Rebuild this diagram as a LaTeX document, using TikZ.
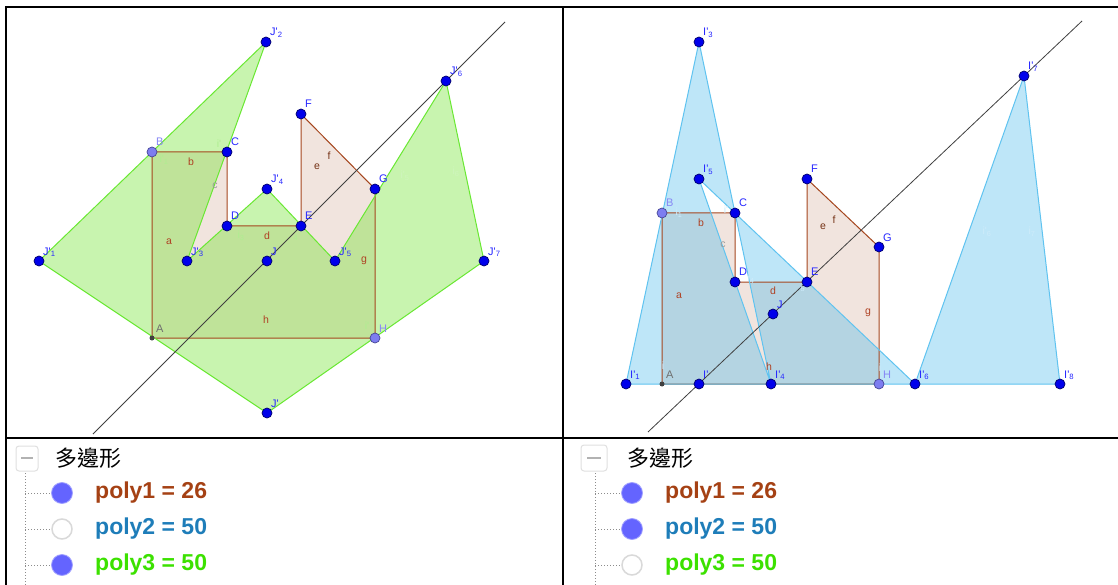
\documentclass[tikz,border=0pt]{standalone}
\usepackage{fontspec}
\setmainfont{Liberation Sans}
\newfontfamily\cjkfont{Noto Sans CJK TC}
\definecolor{brn}{RGB}{165,70,30}
\definecolor{pinkc}{RGB}{153,51,0}
\definecolor{grnc}{RGB}{98,226,26}
\definecolor{grnedge}{RGB}{105,232,50}
\definecolor{bluc}{RGB}{69,184,235}
\definecolor{bluedge}{RGB}{95,195,240}
\definecolor{ptblue}{RGB}{0,0,235}
\definecolor{ptdark}{RGB}{0,0,110}
\definecolor{ptlight}{RGB}{125,125,240}
\definecolor{ptlightd}{RGB}{70,70,150}
\definecolor{labblue}{RGB}{40,40,255}
\definecolor{lablight}{RGB}{135,135,245}
\definecolor{labgray}{RGB}{110,110,110}
\definecolor{seglab}{RGB}{175,65,35}
\definecolor{faintg}{RGB}{175,238,145}
\definecolor{faintb}{RGB}{205,235,250}
\definecolor{legdot}{RGB}{100,100,255}
\definecolor{txtp1}{RGB}{165,65,20}
\definecolor{txtp2}{RGB}{30,125,185}
\definecolor{txtp3}{RGB}{60,225,0}
\newcommand{\pq}{\textquotesingle}
\begin{document}
\begin{tikzpicture}[x=1pt,y=-1pt,
  pt/.style={circle,fill=ptblue,draw=ptdark,line width=0.7pt,inner sep=0pt,minimum size=10pt},
  ptl/.style={pt,fill=ptlight,draw=ptlightd},
  ptA/.style={circle,fill=black!75,inner sep=0pt,minimum size=5pt},
  lbl/.style={text=labblue,font=\fontsize{11}{11}\selectfont,anchor=base west,inner sep=0pt,xshift=4pt,yshift=6pt},
  lbll/.style={lbl,text=lablight},
  lblg/.style={lbl,text=labgray},
  seg/.style={text=seglab,font=\fontsize{10.5}{10.5}\selectfont,inner sep=0pt},
  fg/.style={text=faintg,font=\fontsize{10.5}{10.5}\selectfont,inner sep=0pt},
  fb/.style={text=faintb,font=\fontsize{10.5}{10.5}\selectfont,inner sep=0pt},
  poneedge/.style={draw=brn,line width=1pt},
  ponefill/.style={fill=pinkc,fill opacity=0.13},
  gfill/.style={fill=grnc,fill opacity=0.35,even odd rule},
  gedge/.style={draw=grnedge,line width=1pt},
  bfill/.style={fill=bluc,fill opacity=0.35,even odd rule},
  bedge/.style={draw=bluedge,line width=1pt},
  mline/.style={draw=black!75,line width=0.8pt},
  frame/.style={draw=black,line width=2.5pt},
  legtxt/.style={font=\fontsize{23}{23}\selectfont\bfseries,anchor=west,inner sep=0pt},
  legdotf/.style={circle,fill=legdot,draw=legdot!60,line width=0.8pt,minimum size=21pt,inner sep=0pt},
  legdote/.style={circle,fill=white,draw=black!15,line width=1.5pt,minimum size=20pt,inner sep=0pt},
  tree/.style={draw=black!45,line width=1pt,dotted},
  minusbox/.style={draw=black!12,line width=1pt,rounded corners=3pt,fill=white}
]
\useasboundingbox (0,0) rectangle (1118,585);
\fill[white] (0,0) rectangle (1118,585);

% ================= LEFT PANEL =================
\coordinate (LA) at (152,338);
\coordinate (LB) at (152,152);
\coordinate (LC) at (227,152);
\coordinate (LD) at (227,226);
\coordinate (LE) at (301,226);
\coordinate (LF) at (301,114);
\coordinate (LG) at (375,189);
\coordinate (LH) at (375,338);
\coordinate (LJ1) at (39,261);
\coordinate (LJ2) at (266,42);
\coordinate (LJ3) at (187,261);
\coordinate (LJ4) at (267,189);
\coordinate (LJ5) at (335,261);
\coordinate (LJ6) at (446,81);
\coordinate (LJ7) at (484,261);
\coordinate (LJ8) at (267,413);
\coordinate (LJ) at (267,261);
\coordinate (LL1) at (93,434);
\coordinate (LL2) at (505,22);

\fill[ponefill] (LA) -- (LB) -- (LC) -- (LD) -- (LE) -- (LF) -- (LG) -- (LH) -- cycle;
\fill[gfill] (LJ1) -- (LJ2) -- (LJ3) -- (LJ4) -- (LJ5) -- (LJ6) -- (LJ7) -- (LJ8) -- cycle;
\draw[poneedge] (LA) -- (LB) -- (LC) -- (LD) -- (LE) -- (LF) -- (LG) -- (LH) -- cycle;
\draw[gedge] (LJ1) -- (LJ2) -- (LJ3) -- (LJ4) -- (LJ5) -- (LJ6) -- (LJ7) -- (LJ8) -- cycle;
\draw[mline] (LL1) -- (LL2);

% segment labels
\node[seg] (la) at (169,242) {a};
\node[seg] (lb) at (191,162) {b};
\node[seg,text=labgray!70] (lc) at (215,186) {c};
\node[seg] (ld) at (267,236) {d};
\node[seg,text=brn!70!black] (le) at (317,167) {e};
\node[seg,text=brn!70!black] (lf) at (329,156) {f};
\node[seg] (lg) at (364,261) {g};
\node[seg] (lh) at (266,320) {h};
% faint edge labels
\node[fg] (lf1) at (164,160) {i\pq\textsubscript{1}};
\node[fg] (lf2) at (219,144) {i\pq};
\node[fg] (lf3) at (241,236) {i\textsubscript{3}};
\node[fg] (lf4) at (296,238) {\textsubscript{4}};
\node[fg,text=faintg!60] (lf5) at (405,176) {i\pq\textsubscript{5}};
\node[fg,text=faintg!60] (lf6) at (456,172) {i\textsubscript{6}};
\node[fg] (lf7) at (367,326) {i\pq};

% points
\node[ptA] (pLA) at (LA) {};
\node[ptl] (pLB) at (LB) {};
\node[pt] (pLC) at (LC) {};
\node[pt] (pLD) at (LD) {};
\node[pt] (pLE) at (LE) {};
\node[pt] (pLF) at (LF) {};
\node[pt] (pLG) at (LG) {};
\node[ptl] (pLH) at (LH) {};
\node[pt] (pLJ1) at (LJ1) {};
\node[pt] (pLJ2) at (LJ2) {};
\node[pt] (pLJ3) at (LJ3) {};
\node[pt] (pLJ4) at (LJ4) {};
\node[pt] (pLJ5) at (LJ5) {};
\node[pt] (pLJ6) at (LJ6) {};
\node[pt] (pLJ7) at (LJ7) {};
\node[pt] (pLJ8) at (LJ8) {};
\node[pt] (pLJ) at (LJ) {};
% point labels
\node[lblg] (tLA) at (LA) {A};
\node[lbll] (tLB) at (LB) {B};
\node[lbl] (tLC) at (LC) {C};
\node[lbl] (tLD) at (LD) {D};
\node[lbl] (tLE) at (LE) {E};
\node[lbl] (tLF) at (LF) {F};
\node[lbl] (tLG) at (LG) {G};
\node[lbll] (tLH) at (LH) {H};
\node[lbl] (tLJ1) at (LJ1) {J\pq\textsubscript{1}};
\node[lbl] (tLJ2) at (LJ2) {J\pq\textsubscript{2}};
\node[lbl] (tLJ3) at (LJ3) {J\pq\textsubscript{3}};
\node[lbl] (tLJ4) at (LJ4) {J\pq\textsubscript{4}};
\node[lbl] (tLJ5) at (LJ5) {J\pq\textsubscript{5}};
\node[lbl] (tLJ6) at (LJ6) {J\pq\textsubscript{6}};
\node[lbl] (tLJ7) at (LJ7) {J\pq\textsubscript{7}};
\node[lbl] (tLJ8) at (LJ8) {J\pq};
\node[lbl] (tLJ) at (LJ) {J};

% ================= RIGHT PANEL =================
\coordinate (RA) at (662,384);
\coordinate (RB) at (662,213);
\coordinate (RC) at (735,213);
\coordinate (RD) at (735,282);
\coordinate (RE) at (807,282);
\coordinate (RF) at (807,179);
\coordinate (RG) at (879,247);
\coordinate (RH) at (879,384);
\coordinate (RI1) at (626,384);
\coordinate (RI3) at (699,42);
\coordinate (RI4) at (771,384);
\coordinate (RI5) at (699,179);
\coordinate (RI6) at (915,384);
\coordinate (RI7) at (1024,76);
\coordinate (RI8) at (1060,384);
\coordinate (RIp) at (699,384);
\coordinate (RJ) at (773,314);
\coordinate (RL1) at (648,432);
\coordinate (RL2) at (1082,21);

\fill[ponefill] (RA) -- (RB) -- (RC) -- (RD) -- (RE) -- (RF) -- (RG) -- (RH) -- cycle;
\fill[bfill] (RI1) -- (RI3) -- (RI4) -- (RI5) -- (RI6) -- (RI7) -- (RI8) -- (RIp) -- cycle;
\draw[poneedge] (RA) -- (RB) -- (RC) -- (RD) -- (RE) -- (RF) -- (RG) -- (RH) -- cycle;
\draw[bedge] (RI1) -- (RI3) -- (RI4) -- (RI5) -- (RI6) -- (RI7) -- (RI8) -- (RIp) -- cycle;
\draw[mline] (RL1) -- (RL2);

\node[seg] (ra) at (679,296) {a};
\node[seg] (rb) at (701,223) {b};
\node[seg,text=labgray!70] (rc) at (723,245) {c};
\node[seg] (rd) at (773,291) {d};
\node[seg,text=brn!70!black] (re) at (823,227) {e};
\node[seg,text=brn!70!black] (rf) at (834,220) {f};
\node[seg] (rg) at (868,313) {g};
\node[seg] (rh) at (769,367) {h};
\node[fb] (rf1) at (679,213) {i\textsubscript{1}};
\node[fb] (rf2) at (726,210) {i\pq};
\node[fb] (rf3) at (751,279) {i\textsubscript{4}};
\node[fb] (rf4) at (803,289) {\textsubscript{5}};
\node[fb] (rf5) at (987,232) {i\pq\textsubscript{6}};
\node[fb] (rf6) at (1032,232) {i\textsubscript{7}};
\node[fb] (rf7) at (663,366) {i};
\node[fb] (rf8) at (880,368) {i};

\node[ptA] (pRA) at (RA) {};
\node[ptl] (pRB) at (RB) {};
\node[pt] (pRC) at (RC) {};
\node[pt] (pRD) at (RD) {};
\node[pt] (pRE) at (RE) {};
\node[pt] (pRF) at (RF) {};
\node[pt] (pRG) at (RG) {};
\node[ptl] (pRH) at (RH) {};
\node[pt] (pRI1) at (RI1) {};
\node[pt] (pRI3) at (RI3) {};
\node[pt] (pRI4) at (RI4) {};
\node[pt] (pRI5) at (RI5) {};
\node[pt] (pRI6) at (RI6) {};
\node[pt] (pRI7) at (RI7) {};
\node[pt] (pRI8) at (RI8) {};
\node[pt] (pRIp) at (RIp) {};
\node[pt] (pRJ) at (RJ) {};

\node[lblg] (tRA) at (RA) {A};
\node[lbll] (tRB) at (RB) {B};
\node[lbl] (tRC) at (RC) {C};
\node[lbl] (tRD) at (RD) {D};
\node[lbl] (tRE) at (RE) {E};
\node[lbl] (tRF) at (RF) {F};
\node[lbl] (tRG) at (RG) {G};
\node[lbll] (tRH) at (RH) {H};
\node[lbl] (tRI1) at (RI1) {I\pq\textsubscript{1}};
\node[lbl] (tRI3) at (RI3) {I\pq\textsubscript{3}};
\node[lbl] (tRI4) at (RI4) {I\pq\textsubscript{4}};
\node[lbl] (tRI5) at (RI5) {I\pq\textsubscript{5}};
\node[lbl] (tRI6) at (RI6) {I\pq\textsubscript{6}};
\node[lbl] (tRI7) at (RI7) {I\pq\textsubscript{7}};
\node[lbl] (tRI8) at (RI8) {I\pq\textsubscript{8}};
\node[lbl] (tRIp) at (RIp) {I\pq};
\node[lbl] (tRJ) at (RJ) {J};

% ================= LEGENDS =================
% left
\draw[minusbox] (16,446) rectangle (38,471);
\draw[black!30,line width=1.5pt] (21,458) -- (33,458);
\node[font=\cjkfont\fontsize{22}{22}\selectfont,inner sep=0pt] (ltitle) at (88,458) {多邊形};
\coordinate (LT0) at (25,473);
\coordinate (LT1) at (25,585);
\draw[tree] (LT0) -- (LT1);
\node[legdotf] (ld1) at (62,493) {};
\node[legdote] (ld2) at (62,529) {};
\node[legdotf] (ld3) at (62,565) {};
\draw[tree] (25,493) -- (ld1.west);
\draw[tree] (25,529) -- (ld2.west);
\draw[tree] (25,565) -- (ld3.west);
\node[legtxt,text=txtp1] (lt1) at (95,493) {poly1 = 26};
\node[legtxt,text=txtp2] (lt2) at (95,529) {poly2 = 50};
\node[legtxt,text=txtp3] (lt3) at (95,565) {poly3 = 50};
% right
\draw[minusbox] (581,445) rectangle (607,471);
\draw[black!30,line width=1.5pt] (587,458) -- (601,458);
\node[font=\cjkfont\fontsize{22}{22}\selectfont,inner sep=0pt] (rtitle) at (660,458) {多邊形};
\coordinate (RT0) at (595,473);
\coordinate (RT1) at (595,585);
\draw[tree] (RT0) -- (RT1);
\node[legdotf] (rd1) at (632,493) {};
\node[legdotf] (rd2) at (632,529) {};
\node[legdote] (rd3) at (632,565) {};
\draw[tree] (595,493) -- (rd1.west);
\draw[tree] (595,529) -- (rd2.west);
\draw[tree] (595,565) -- (rd3.west);
\node[legtxt,text=txtp1] (rt1) at (665,493) {poly1 = 26};
\node[legtxt,text=txtp2] (rt2) at (665,529) {poly2 = 50};
\node[legtxt,text=txtp3] (rt3) at (665,565) {poly3 = 50};

% ================= FRAME =================
\draw[frame] (6,587) -- (6,7) -- (1120,7);
\draw[frame] (563,7) -- (563,587);
\draw[frame] (6,438) -- (1120,438);
\end{tikzpicture}
\end{document}
